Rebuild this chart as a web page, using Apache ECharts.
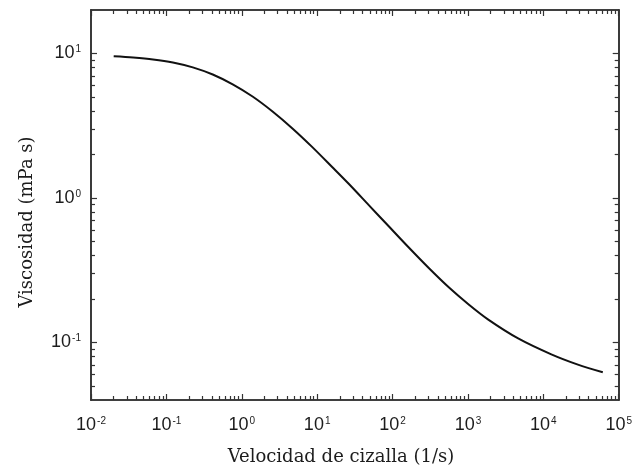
<!DOCTYPE html>
<html>
<head>
<meta charset="utf-8">
<script src="https://cdn.jsdelivr.net/npm/echarts@6/dist/echarts.min.js"></script>
<style>
  html, body { margin: 0; padding: 0; background: #fff; }
  #chart { width: 635px; height: 470px; }
</style>
</head>
<body>
<div id="chart"></div>
<script>
// Flow curve: viscosity versus shear rate (log-log)
const shearRate = [0.02, 0.0362, 0.0665, 0.122, 0.224, 0.412, 0.758, 1.39, 2.56, 4.70, 8.63, 15.8, 26.4, 48.4, 89.0, 163, 300, 552, 1014, 1862, 4634, 12766, 28770, 61500];
const viscosity = [9.57, 9.38, 9.10, 8.67, 8.02, 7.16, 6.12, 5.04, 3.97, 3.03, 2.25, 1.64, 1.25, 0.893, 0.637, 0.456, 0.329, 0.242, 0.184, 0.144, 0.1067, 0.0828, 0.0703, 0.0622];

// Axis ranges and decade tick labels (shown as powers of ten)
const xRange = [0.01, 100000];
const yRange = [0.04, 20];
const xMajorTicks = [0.01, 0.1, 1, 10, 100, 1000, 10000, 100000];
const xTickExponents = ['-2', '-1', '0', '1', '2', '3', '4', '5'];
const yMajorTicks = [0.1, 1, 10];
const yTickExponents = ['-1', '0', '1'];

const xTitle = 'Velocidad de cizalla (1/s)';
const yTitle = 'Viscosidad (mPa s)';

// Minor ticks at 2..9 within each decade, clipped to the axis range
function minorTicks(range) {
  const out = [];
  for (let e = -3; e <= 6; e++) {
    for (let k = 2; k <= 9; k++) {
      const v = k * Math.pow(10, e);
      if (v > range[0] * 1.0001 && v < range[1] * 0.9999) out.push(v);
    }
  }
  return out;
}

const axisColor = '#333';
const labelRich = {
  b: { fontFamily: 'Liberation Sans, Arial, sans-serif', fontSize: 18, color: '#1c1c1c' },
  s: { fontFamily: 'Liberation Sans, Arial, sans-serif', fontSize: 10, color: '#1c1c1c', verticalAlign: 'top', padding: [0, 0, 0, 1] }
};

function powLabel(ticks, exps) {
  return function (value) {
    const i = ticks.findIndex(t => Math.abs(t - value) / t < 1e-6);
    return i < 0 ? '' : '{b|10}{s|' + exps[i] + '}';
  };
}

function makeAxis(position, range, tickValues, tickLen, opts) {
  return Object.assign({
    type: 'log',
    logBase: 10,
    position: position,
    min: range[0],
    max: range[1],
    axisLine: { show: true, onZero: false, lineStyle: { color: axisColor, width: 1.6 } },
    axisTick: { show: true, inside: true, length: tickLen, customValues: tickValues, lineStyle: { color: axisColor, width: 1.2 } },
    axisLabel: { show: false },
    splitLine: { show: false },
    minorTick: { show: false },
    minorSplitLine: { show: false }
  }, opts || {});
}

const xMinor = minorTicks(xRange);
const yMinor = minorTicks(yRange);

const chart = echarts.init(document.getElementById('chart'), null, { renderer: 'canvas' });

chart.setOption({
  animation: false,
  backgroundColor: '#fff',
  grid: { left: 91, right: 14, top: 10, bottom: 70, containLabel: false },
  xAxis: [
    makeAxis('bottom', xRange, xMajorTicks, 6, {
      axisLabel: {
        show: true, customValues: xMajorTicks, margin: 16,
        formatter: powLabel(xMajorTicks, xTickExponents), rich: labelRich
      }
    }),
    makeAxis('bottom', xRange, xMinor, 4),
    makeAxis('top', xRange, xMajorTicks, 6),
    makeAxis('top', xRange, xMinor, 4)
  ],
  yAxis: [
    makeAxis('left', yRange, yMajorTicks, 6, {
      axisLabel: {
        show: true, customValues: yMajorTicks, margin: 10,
        formatter: powLabel(yMajorTicks, yTickExponents), rich: labelRich
      }
    }),
    makeAxis('left', yRange, yMinor, 4),
    makeAxis('right', yRange, yMajorTicks, 6),
    makeAxis('right', yRange, yMinor, 4)
  ],
  series: [{
    type: 'line',
    xAxisIndex: 0,
    yAxisIndex: 0,
    data: shearRate.map((x, i) => [x, viscosity[i]]),
    showSymbol: false,
    smooth: 0.3,
    lineStyle: { color: '#111', width: 2 }
  }],
  graphic: [
    {
      type: 'text', x: 341, y: 457,
      style: { text: xTitle, font: '18px "DejaVu Serif", serif', fill: '#1c1c1c', align: 'center', verticalAlign: 'middle' }
    },
    {
      type: 'text', x: 27, y: 222, rotation: Math.PI / 2,
      style: { text: yTitle, font: '18px "DejaVu Serif", serif', fill: '#1c1c1c', align: 'center', verticalAlign: 'middle' }
    }
  ]
});
</script>
</body>
</html>
